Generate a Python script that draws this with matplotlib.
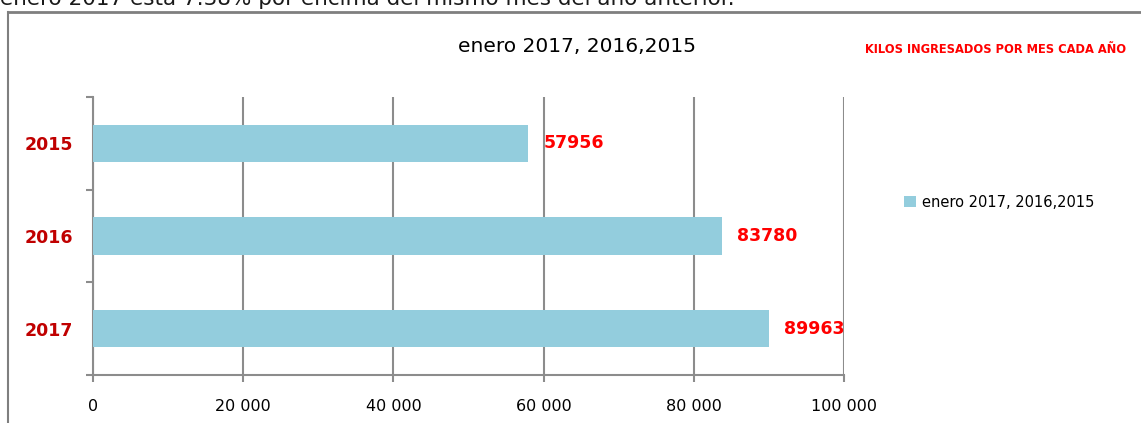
import matplotlib.pyplot as plt
from matplotlib.lines import Line2D
from matplotlib.ticker import FuncFormatter

years = ['2015', '2016', '2017']
kilos = [57956, 83780, 89963]
series_name = 'enero 2017, 2016,2015'
note = 'KILOS INGRESADOS POR MES CADA AÑO'
intro = 'enero 2017 está 7.38% por encima del mismo mes del año anterior.'

bar_color = '#93cddd'
grid_color = '#8c8c8c'

fig = plt.figure(figsize=(11.41, 4.23), dpi=100)

# sentence from the page above, cut off by the crop
fig.text(0.0, 0.988, intro, fontsize=15.5, color='#1a1a1a', ha='left', va='baseline')

# outer chart frame (extends past the right and bottom edge)
fig.add_artist(Line2D([8 / 1141, 1.0], [1 - 12 / 423, 1 - 12 / 423],
                      transform=fig.transFigure, color='#7f7f7f', lw=2))
fig.add_artist(Line2D([8 / 1141, 8 / 1141], [0.0, 1 - 12 / 423],
                      transform=fig.transFigure, color='#7f7f7f', lw=1.5))

ax = fig.add_axes([93 / 1141, 48 / 423, 751 / 1141, 278 / 423])

pos = list(range(len(years)))
bars = ax.barh(pos, kilos, height=0.4, color=bar_color, label=series_name, zorder=3)
ax.set_yticks(pos)
ax.set_yticklabels(years)
ax.set_ylim(-0.5, 2.5)
ax.invert_yaxis()
ax.set_yticks([-0.5, 0.5, 1.5, 2.5], minor=True)
ax.tick_params(axis='y', which='major', length=0, pad=14.5, labelsize=12.5,
               labelcolor='#c00000')
for lbl in ax.get_yticklabels():
    lbl.set_fontweight('bold')
ax.tick_params(axis='y', which='minor', length=5, width=1.5, color=grid_color)

ax.set_xlim(0, 100000)
ax.set_xticks(range(0, 100001, 20000))
ax.xaxis.set_major_formatter(FuncFormatter(lambda v, p: f'{int(v):,}'.replace(',', ' ')))
ax.tick_params(axis='x', length=5, width=1.5, color=grid_color, pad=12, labelsize=11.5)
ax.grid(axis='x', color=grid_color, lw=1.5, zorder=0)

for s in ['top', 'right']:
    ax.spines[s].set_visible(False)
for s in ['left', 'bottom']:
    ax.spines[s].set_color(grid_color)
    ax.spines[s].set_linewidth(1.5)

for b, v in zip(bars, kilos):
    ax.annotate(str(v), (v, b.get_y() + b.get_height() / 2), xytext=(11, 0),
                textcoords='offset points', ha='left', va='center',
                color='#ff0000', fontsize=12.5, fontweight='bold')

fig.text(577 / 1141, 1 - 47 / 423, series_name, fontsize=14.5, ha='center', va='center')
fig.text(996 / 1141, 1 - 49 / 423, note, fontsize=8.3, fontweight='bold',
         color='#ff0000', ha='center', va='center')

fig.legend(loc='center left', bbox_to_anchor=(904 / 1141, 1 - 202 / 423),
           frameon=False, fontsize=10.5, handlelength=0.8, handleheight=0.8,
           handletextpad=0.4, borderpad=0, borderaxespad=0)

fig.savefig('out.png', dpi=100)
